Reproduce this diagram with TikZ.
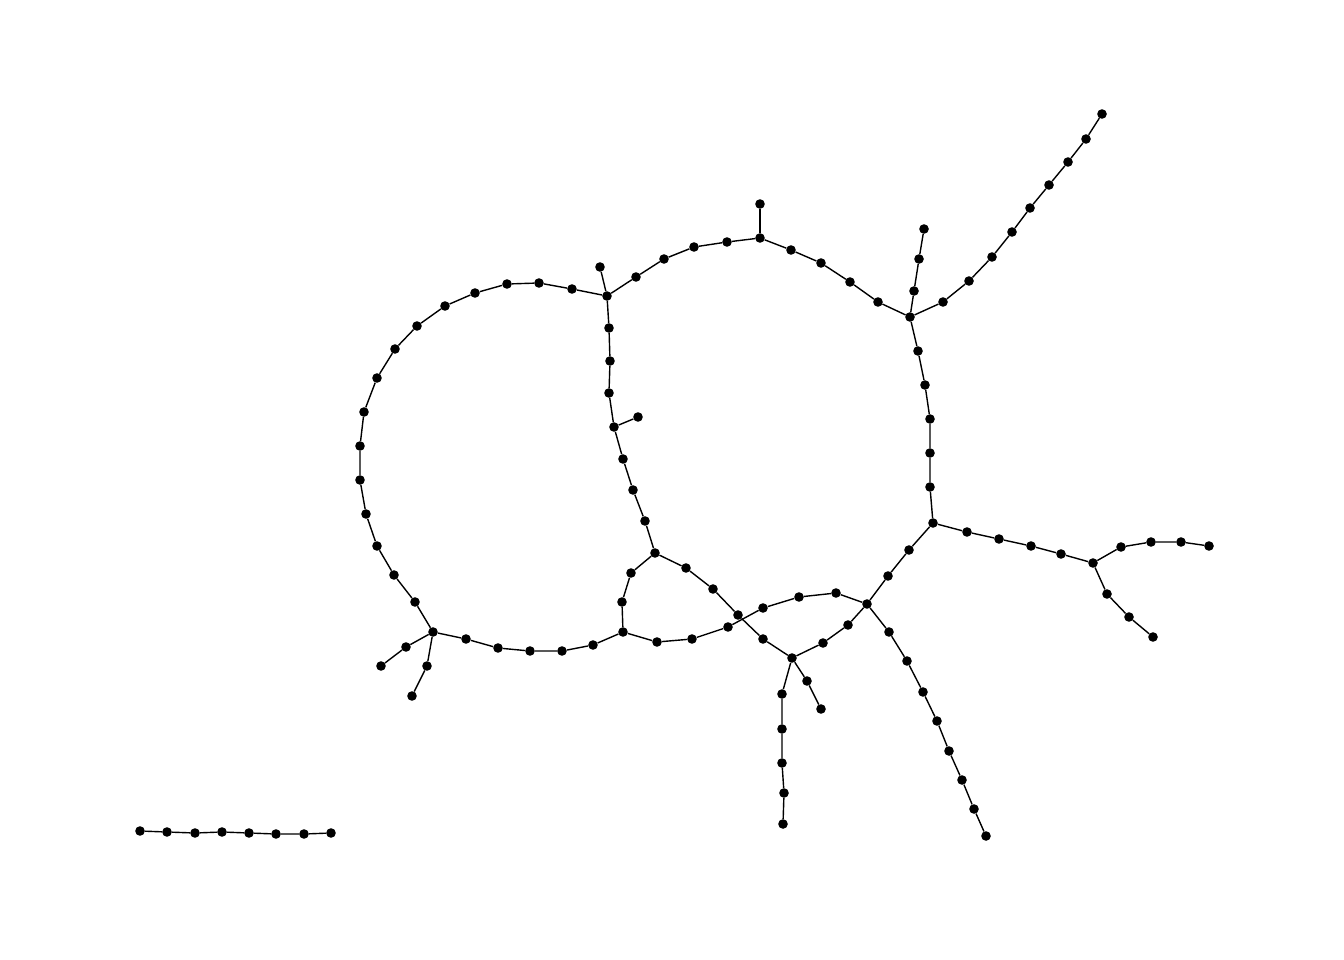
\documentclass[tikz,border=0pt]{standalone}
\begin{document}
\begin{tikzpicture}[x=1pt,y=-1pt,
  vtx/.style={circle,fill=black,draw=none,inner sep=0pt,minimum size=9.6pt},
  edg/.style={line width=1.4pt,black}]
\useasboundingbox (0,0) rectangle (1344,960);
\foreach \n/\x/\y in {
 A/607/296, a1/572/289, a2/539/283, a3/507/284, a4/475/293, a5/445/306, a6/417/326,
 a7/395/349, a8/377/378, a9/364/412, a10/360/446, a11/360/480, a12/366/514, a13/377/546,
 a14/394/575, a15/415/602, B/433/632, b1/406/647, b2/381/666, b3/427/666, b4/412/696,
 c1/466/639, c2/498/648, c3/530/651, c4/562/651, c5/593/645, C/623/632,
 d1/622/602, d2/631/573, D/655/553, p1/600/267,
 v1/609/328, v2/610/361, v3/609/393, K/614/427, v4/623/459, v5/633/490, v6/645/521,
 p2/638/417,
 t1/636/277, t2/664/259, t3/694/247, t4/727/242, G/760/238, p3/760/204,
 t5/791/250, t6/821/263, t7/850/282, t8/878/302, E/910/317,
 e1/914/291, e2/919/259, e3/924/229,
 f1/943/302, f2/969/281, f3/992/257, f4/1012/232, f5/1030/208, f6/1049/185,
 f7/1068/162, f8/1086/139, f9/1102/114,
 r1/918/351, r2/925/385, r3/930/419, r4/930/453, r5/930/487, F/933/523,
 g1/967/532, g2/999/539, g3/1031/546, g4/1061/554, J/1093/563,
 j1/1121/547, j2/1151/542, j3/1181/542, j4/1209/546,
 j5/1107/594, j6/1129/617, j7/1153/637,
 h1/909/550, h2/888/576, H/867/604,
 k1/889/632, k2/907/661, k3/923/692, k4/937/721, k5/949/751, k6/962/780, k7/974/809, k8/986/836,
 m1/657/642, m2/692/639, m3/728/627, m4/763/608, m5/799/597, m6/836/593,
 n1/686/568, n2/713/589, n3/738/615, n4/763/639, I/792/658,
 i1/823/643, i2/848/625, i3/807/681, i4/821/709,
 i5/782/694, i6/782/729, i7/782/763, i8/784/793, i9/783/824,
 q1/140/831, q2/167/832, q3/195/833, q4/222/832, q5/249/833, q6/276/834, q7/304/834, q8/331/833}
 {\node[vtx] (\n) at (\x,\y) {};}
\draw[edg] (A)--(a1)--(a2)--(a3)--(a4)--(a5)--(a6)--(a7)--(a8)--(a9)--(a10)--(a11)--(a12)--(a13)--(a14)--(a15)--(B);
\draw[edg] (B)--(b1)--(b2);
\draw[edg] (B)--(b3)--(b4);
\draw[edg] (B)--(c1)--(c2)--(c3)--(c4)--(c5)--(C);
\draw[edg] (C)--(d1)--(d2)--(D);
\draw[edg] (A)--(p1);
\draw[edg] (A)--(v1)--(v2)--(v3)--(K)--(v4)--(v5)--(v6)--(D);
\draw[edg] (K)--(p2);
\draw[edg] (A)--(t1)--(t2)--(t3)--(t4)--(G);
\draw[edg] (G)--(p3);
\draw[edg] (G)--(t5)--(t6)--(t7)--(t8)--(E);
\draw[edg] (E)--(e1)--(e2)--(e3);
\draw[edg] (E)--(f1)--(f2)--(f3)--(f4)--(f5)--(f6)--(f7)--(f8)--(f9);
\draw[edg] (E)--(r1)--(r2)--(r3)--(r4)--(r5)--(F);
\draw[edg] (F)--(g1)--(g2)--(g3)--(g4)--(J);
\draw[edg] (J)--(j1)--(j2)--(j3)--(j4);
\draw[edg] (J)--(j5)--(j6)--(j7);
\draw[edg] (F)--(h1)--(h2)--(H);
\draw[edg] (H)--(k1)--(k2)--(k3)--(k4)--(k5)--(k6)--(k7)--(k8);
\draw[edg] (C)--(m1)--(m2)--(m3)--(m4)--(m5)--(m6)--(H);
\draw[edg] (D)--(n1)--(n2)--(n3)--(n4)--(I);
\draw[edg] (I)--(i1)--(i2)--(H);
\draw[edg] (I)--(i3)--(i4);
\draw[edg] (I)--(i5)--(i6)--(i7)--(i8)--(i9);
\draw[edg] (q1)--(q2)--(q3)--(q4)--(q5)--(q6)--(q7)--(q8);
\end{tikzpicture}
\end{document}
